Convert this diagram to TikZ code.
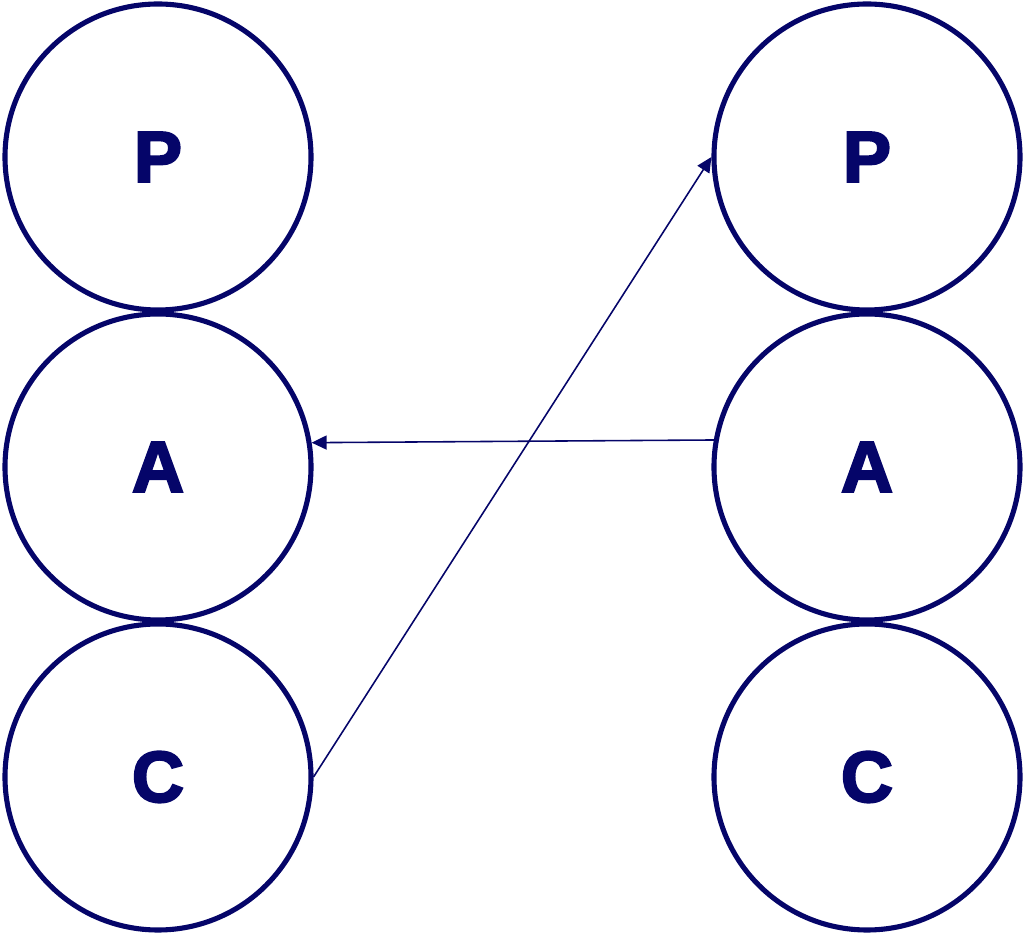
\documentclass[tikz,border=0pt]{standalone}
\usepackage{fontspec}
\setmainfont{Liberation Sans}
\newfontfamily\heavyfont[FakeBold=3]{Liberation Sans Bold}
\usepackage{xcolor}
\usetikzlibrary{arrows.meta}
\definecolor{navy}{RGB}{5,5,105}
\tikzset{ball/.style={circle,draw=navy,line width=2.9pt,minimum size=6.12cm,inner sep=0pt,
  text=navy,font=\heavyfont\fontsize{41}{41}\selectfont},
  link/.style={draw=navy,line width=0.9pt,-{Triangle[length=3mm,width=2.8mm]}}}

\begin{document}
\begin{tikzpicture}
    \useasboundingbox (0,0) rectangle (20.48,18.7);
    
    % left column
    \node[ball] (lp) at (3.16,15.56) {P};
    \node[ball] (la) at (3.16,9.36) {A};
    \node[ball] (lc) at (3.16,3.16) {C};
    
    % right column
    \node[ball] (rp) at (17.34,15.56) {P};
    \node[ball] (ra) at (17.34,9.36) {A};
    \node[ball] (rc) at (17.34,3.16) {C};
    
    % connectors
    \draw[link] (lc.east) -- (rp.west);
    \draw[link] (ra.170.7) -- (la.9.3);
\end{tikzpicture}
\end{document}
